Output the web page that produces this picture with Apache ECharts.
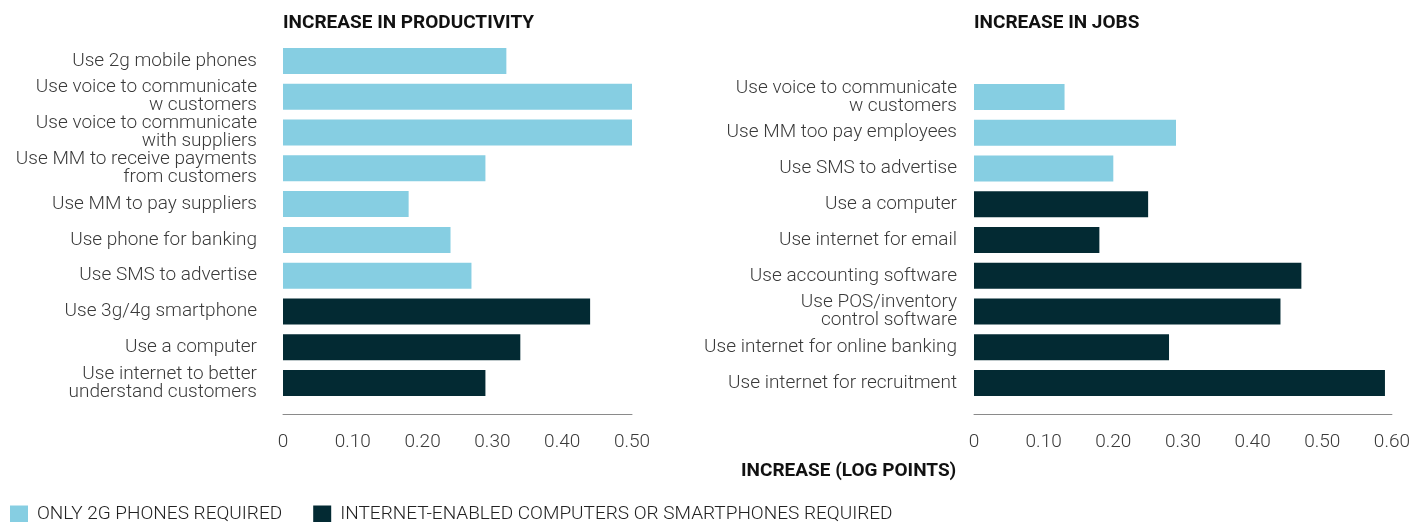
<!DOCTYPE html>
<html>
<head>
<meta charset="utf-8">
<script src="https://cdn.jsdelivr.net/npm/echarts@6/dist/echarts.min.js"></script>
<style>
html,body{margin:0;padding:0;background:#fff;}
#c{width:1413px;height:522px;}
</style>
</head>
<body>
<div id="c"></div>
<script>
// ---- data ----
const seriesNames = ['ONLY 2G PHONES REQUIRED', 'INTERNET-ENABLED COMPUTERS OR SMARTPHONES REQUIRED'];

const prodCategories = [
  'Use 2g mobile phones',
  'Use voice to communicate\nw customers',
  'Use voice to communicate\nwith suppliers',
  'Use MM to receive payments\nfrom customers',
  'Use MM to pay suppliers',
  'Use phone for banking',
  'Use SMS to advertise',
  'Use 3g/4g smartphone',
  'Use a computer',
  'Use internet to better\nunderstand customers'
];
const prodValues = [0.32, 0.50, 0.50, 0.29, 0.18, 0.24, 0.27, 0.44, 0.34, 0.29];
const prodGroup  = [0, 0, 0, 0, 0, 0, 0, 1, 1, 1];

const jobsCategories = [
  'Use voice to communicate\nw customers',
  'Use MM too pay employees',
  'Use SMS to advertise',
  'Use a computer',
  'Use internet for email',
  'Use accounting software',
  'Use POS/inventory\ncontrol software',
  'Use internet for online banking',
  'Use internet for recruitment'
];
const jobsValues = [0.13, 0.29, 0.20, 0.25, 0.18, 0.47, 0.44, 0.28, 0.59];
const jobsGroup  = [0, 0, 0, 1, 1, 1, 1, 1, 1];

const prodTicks = [0, 0.1, 0.2, 0.3, 0.4, 0.5];
const jobsTicks = [0, 0.1, 0.2, 0.3, 0.4, 0.5, 0.6];

const panelTitles = ['INCREASE IN PRODUCTIVITY', 'INCREASE IN JOBS'];
const axisTitle = 'INCREASE (LOG POINTS)';

// ---- styles ----
const colors = ['#86CEE2', '#032A33'];
const FONT = 'Roboto';
const labelColor = '#3a3a3a';

function split(values, groups, g) {
  return values.map((v, i) => groups[i] === g ? v : null);
}
function tickFmt(v) {
  return v === 0 ? '0' : v.toFixed(2);
}

const chart = echarts.init(document.getElementById('c'), null, {renderer: 'canvas'});

const xAxisCommon = {
  type: 'value',
  offset: 13,
  interval: 0.1,
  splitLine: {show: false},
  axisTick: {show: false},
  axisLine: {show: true, lineStyle: {color: '#8a8a8a', width: 1}},
  axisLabel: {
    fontFamily: FONT, fontSize: 19, fontWeight: 300, color: labelColor,
    margin: 19, formatter: tickFmt
  }
};
const yAxisCommon = {
  type: 'category',
  inverse: true,
  axisLine: {show: false},
  axisTick: {show: false},
  splitLine: {show: false}
};

const option = {
  animation: false,
  backgroundColor: '#fff',
  textStyle: {fontFamily: FONT},
  title: [
    {text: panelTitles[0], left: 283, top: 14, padding: 0,
     textStyle: {fontFamily: FONT, fontSize: 19, fontWeight: 'bold', color: '#111'}},
    {text: panelTitles[1], left: 974, top: 14, padding: 0,
     textStyle: {fontFamily: FONT, fontSize: 19, fontWeight: 'bold', color: '#111'}}
  ],
  legend: {
    left: 5, top: 505, padding: [0, 5, 0, 5],
    itemWidth: 18, itemHeight: 18, itemGap: 31,
    icon: 'rect',
    data: seriesNames,
    textStyle: {fontFamily: FONT, fontSize: 19, fontWeight: 300, color: '#222', padding: [0, 0, 0, 4]}
  },
  grid: [
    {left: 283, width: 349, top: 43, height: 358},
    {left: 974, width: 420, top: 79, height: 322}
  ],
  xAxis: [
    Object.assign({}, xAxisCommon, {gridIndex: 0, min: 0, max: 0.5}),
    Object.assign({}, xAxisCommon, {gridIndex: 1, min: 0, max: 0.6})
  ],
  yAxis: [
    Object.assign({}, yAxisCommon, {gridIndex: 0, data: prodCategories,
      axisLabel: {fontFamily: FONT, fontSize: 19, fontWeight: 300, color: labelColor, margin: 26, lineHeight: 18, align: 'right'}}),
    Object.assign({}, yAxisCommon, {gridIndex: 1, data: jobsCategories,
      axisLabel: {fontFamily: FONT, fontSize: 19, fontWeight: 300, color: labelColor, margin: 17, lineHeight: 18, align: 'right'}})
  ],
  graphic: [
    {type: 'text', left: 741, top: 462,
     style: {text: axisTitle, fontFamily: FONT, fontSize: 19, fontWeight: 'bold', fill: '#111'}}
  ],
  series: [
    {name: seriesNames[0], type: 'bar', xAxisIndex: 0, yAxisIndex: 0, stack: 'p',
     barWidth: 26, itemStyle: {color: colors[0]}, data: split(prodValues, prodGroup, 0)},
    {name: seriesNames[1], type: 'bar', xAxisIndex: 0, yAxisIndex: 0, stack: 'p',
     barWidth: 26, itemStyle: {color: colors[1]}, data: split(prodValues, prodGroup, 1)},
    {name: seriesNames[0], type: 'bar', xAxisIndex: 1, yAxisIndex: 1, stack: 'j',
     barWidth: 26, itemStyle: {color: colors[0]}, data: split(jobsValues, jobsGroup, 0)},
    {name: seriesNames[1], type: 'bar', xAxisIndex: 1, yAxisIndex: 1, stack: 'j',
     barWidth: 26, itemStyle: {color: colors[1]}, data: split(jobsValues, jobsGroup, 1)}
  ]
};
chart.setOption(option);
</script>
</body>
</html>
